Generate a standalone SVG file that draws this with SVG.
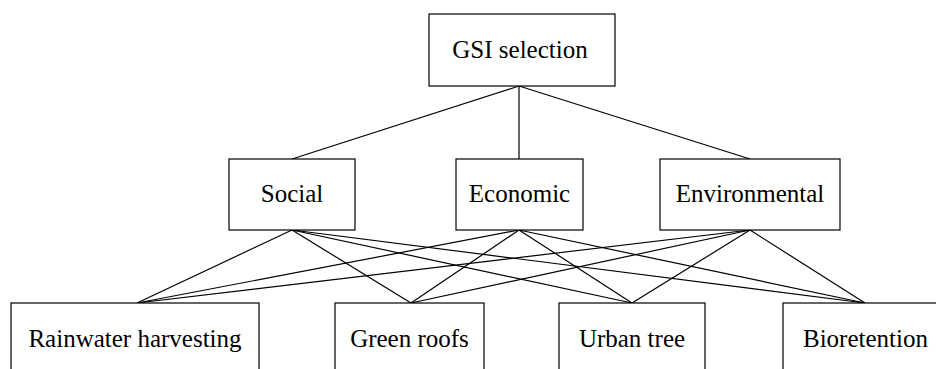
<svg xmlns="http://www.w3.org/2000/svg" width="936" height="369" viewBox="0 0 936 369">
<style>
.box{fill:#fff;stroke:#000;stroke-width:1.2}
.lbl{font-family:"Liberation Serif","Times New Roman",serif;font-size:25px;fill:#000;text-anchor:middle}
.con line{stroke:#000;stroke-width:1.2}
</style>
<rect width="936" height="369" fill="#fff"/>
<g id="connectors" class="con">
<line x1="519" y1="86" x2="292" y2="159"/>
<line x1="519" y1="86" x2="519" y2="159"/>
<line x1="519" y1="86" x2="750" y2="159"/>
<line x1="292" y1="230" x2="137" y2="303"/>
<line x1="292" y1="230" x2="411" y2="303"/>
<line x1="292" y1="230" x2="632" y2="303"/>
<line x1="292" y1="230" x2="865" y2="303"/>
<line x1="519" y1="230" x2="137" y2="303"/>
<line x1="519" y1="230" x2="411" y2="303"/>
<line x1="519" y1="230" x2="632" y2="303"/>
<line x1="519" y1="230" x2="865" y2="303"/>
<line x1="750" y1="230" x2="137" y2="303"/>
<line x1="750" y1="230" x2="411" y2="303"/>
<line x1="750" y1="230" x2="632" y2="303"/>
<line x1="750" y1="230" x2="865" y2="303"/>
</g>
<g id="gsi"><rect class="box" x="429" y="14" width="186" height="72"/><text class="lbl" x="520" y="58">GSI selection</text></g>
<g id="social"><rect class="box" x="229" y="159" width="126" height="71"/><text class="lbl" x="292" y="202">Social</text></g>
<g id="economic"><rect class="box" x="456" y="159" width="127" height="71"/><text class="lbl" x="519.5" y="202">Economic</text></g>
<g id="environmental"><rect class="box" x="660" y="159" width="180" height="71"/><text class="lbl" x="750" y="202">Environmental</text></g>
<g id="rainwater"><rect class="box" x="11" y="303" width="248" height="80"/><text class="lbl" x="135" y="347">Rainwater harvesting</text></g>
<g id="greenroofs"><rect class="box" x="335" y="303" width="149" height="80"/><text class="lbl" x="409.5" y="347">Green roofs</text></g>
<g id="urbantree"><rect class="box" x="559" y="303" width="146" height="80"/><text class="lbl" x="632" y="347">Urban tree</text></g>
<g id="bioretention"><rect class="box" x="783" y="303" width="164" height="80"/><text class="lbl" x="865.5" y="347">Bioretention</text></g>
</svg>
